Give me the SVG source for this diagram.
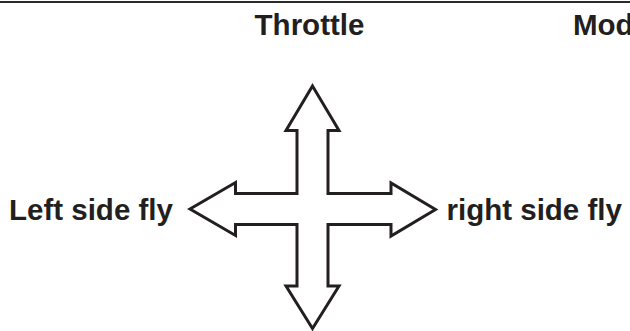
<svg xmlns="http://www.w3.org/2000/svg" width="630" height="331" viewBox="0 0 630 331">
<style>
.lbl{font-family:"Liberation Sans",Arial,sans-serif;font-weight:bold;font-size:29.5px;fill:#231f20}
.arrow{fill:#ffffff;stroke:#231f20;stroke-width:3;stroke-linejoin:miter}
</style>
<rect x="0" y="0" width="630" height="331" fill="#ffffff"/>
<line x1="0" y1="2" x2="630" y2="2" stroke="#2b2b2b" stroke-width="2"/>
<g id="throttle-label"><text class="lbl" x="309.5" y="34.5" text-anchor="middle">Throttle</text></g>
<g id="mode-label"><text class="lbl" x="573" y="34.5">Mod</text></g>
<g id="left-label"><text class="lbl" x="9" y="220">Left side fly</text></g>
<g id="right-label"><text class="lbl" x="446.5" y="220">right side fly</text></g>
<g id="cross-arrow">
<polygon class="arrow" points="312.5,86 339,130.5 328,130.5 328,193.5 391,193.5 391,183 435.5,209.5 391,236 391,224.5 328,224.5 328,286 339,286 312.5,328.5 286,286 297,286 297,224.5 235.5,224.5 235.5,235.5 190,209 235.5,182.5 235.5,193.5 297,193.5 297,130.5 286,130.5"/>
</g>
</svg>
